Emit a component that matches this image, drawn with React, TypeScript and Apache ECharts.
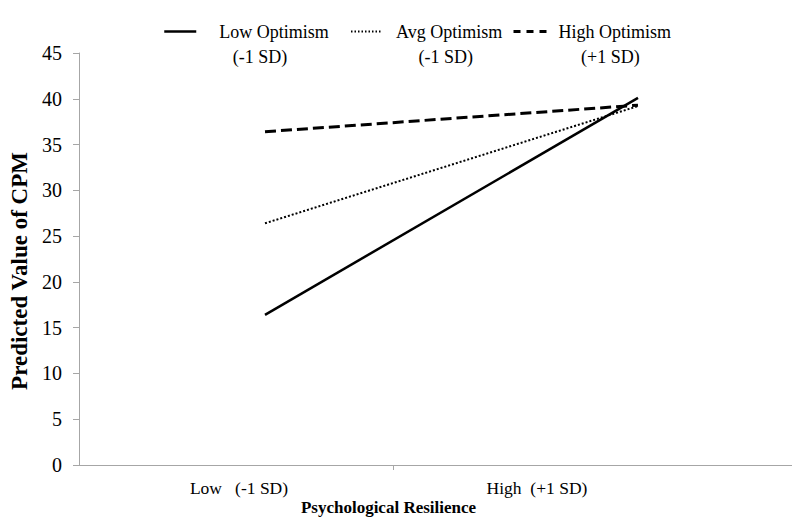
import React, { useEffect, useRef } from "react";
import * as echarts from "echarts";

const categories = ["Low", "High"];
const xTickLabels = ["Low   (-1 SD)", "High  (+1 SD)"];
const seriesNames = ["Low Optimism", "Avg Optimism", "High Optimism"];
const seriesSD = ["   (-1 SD)", "     (-1 SD)", "     (+1 SD)"];
const lowOptimism = [16.4, 40.1];
const avgOptimism = [26.4, 39.2];
const highOptimism = [36.4, 39.3];
const yTicks = { min: 0, max: 45, interval: 5 };

const FONT = "'Liberation Serif', 'Times New Roman', serif";

export default function App() {
  const ref = useRef<HTMLDivElement>(null);
  useEffect(() => {
    if (!ref.current) return;
    const chart = echarts.init(ref.current, null, { renderer: "svg" });
    const axisGray = "#a6a6a6";
    const legendText = {
      fontFamily: FONT,
      fontSize: 18,
      color: "#000",
      lineHeight: 25,
    };
    const legendBase = {
      top: -6,
      padding: 0,
      orient: "horizontal",
      itemHeight: 14,
      itemStyle: { opacity: 0 },
      formatter: (name: string) => "\n" + name + "\n" + seriesSD[seriesNames.indexOf(name)],
    };
    const option: any = {
      animation: false,
      backgroundColor: "#fff",
      grid: [
        { left: 79, right: 0, top: 53, bottom: 66 },
        { left: 265, right: 162, top: 53, bottom: 66 },
        { left: 90, right: 114, top: 53, bottom: 66 },
      ],
      legend: [
        { ...legendBase, left: 163, itemWidth: 32, data: [seriesNames[0]], lineStyle: { width: 2.5, type: "solid" }, textStyle: { ...legendText, padding: [0, 0, 0, 18] } },
        { ...legendBase, left: 350, itemWidth: 30, data: [seriesNames[1]], lineStyle: { width: 2, type: [1.5, 2] }, textStyle: { ...legendText, padding: [0, 0, 0, 10] } },
        { ...legendBase, left: 512, itemWidth: 35, data: [seriesNames[2]], lineStyle: { width: 3, type: [7, 6] }, textStyle: { ...legendText, padding: [0, 0, 0, 5] } },
      ],
      xAxis: [
        {
          type: "value",
          gridIndex: 0,
          min: 0,
          max: 721,
          splitLine: { show: false },
          axisLine: { show: true, lineStyle: { color: axisGray, width: 1 } },
          axisTick: { show: true, customValues: [314], length: 5, lineStyle: { color: axisGray } },
          axisLabel: { show: false },
          name: "Psychological Resilience",
          nameLocation: "middle",
          nameGap: 34,
          nameTextStyle: {
            fontFamily: FONT,
            fontSize: 17,
            fontWeight: "bold",
            color: "#000",
            padding: [0, 102, 0, 0],
          },
        },
        {
          type: "category",
          gridIndex: 1,
          data: categories,
          boundaryGap: false,
          show: false,
        },
        {
          type: "category",
          gridIndex: 2,
          data: xTickLabels,
          boundaryGap: true,
          axisLine: { show: false },
          axisTick: { show: false },
          axisLabel: { fontFamily: FONT, fontSize: 17.5, color: "#000", margin: 14, interval: 0 },
        },
      ],
      yAxis: [
        {
          type: "value",
          gridIndex: 0,
          min: yTicks.min,
          max: yTicks.max,
          interval: yTicks.interval,
          splitLine: { show: false },
          axisLine: { show: true, lineStyle: { color: axisGray, width: 1 } },
          axisTick: { show: true, length: 6, lineStyle: { color: axisGray } },
          axisLabel: { fontFamily: FONT, fontSize: 20, color: "#000", margin: 17 },
          name: "Predicted Value of CPM",
          nameLocation: "middle",
          nameGap: 31,
          nameTextStyle: { fontFamily: FONT, fontSize: 23, fontWeight: "bold", color: "#000", padding: [0, 24, 0, 0] },
        },
        {
          type: "value",
          gridIndex: 1,
          min: yTicks.min,
          max: yTicks.max,
          show: false,
          splitLine: { show: false },
        },
        {
          type: "value",
          gridIndex: 2,
          show: false,
          splitLine: { show: false },
        },
      ],
      series: [
        {
          name: seriesNames[0],
          type: "line",
          xAxisIndex: 1,
          yAxisIndex: 1,
          data: lowOptimism,
          symbol: "none",
          lineStyle: { color: "#000", width: 2.5, type: "solid" },
          itemStyle: { color: "#000" },
        },
        {
          name: seriesNames[1],
          type: "line",
          xAxisIndex: 1,
          yAxisIndex: 1,
          data: avgOptimism,
          symbol: "none",
          lineStyle: { color: "#000", width: 2, type: [2, 2] },
          itemStyle: { color: "#000" },
        },
        {
          name: seriesNames[2],
          type: "line",
          xAxisIndex: 1,
          yAxisIndex: 1,
          data: highOptimism,
          symbol: "none",
          lineStyle: { color: "#000", width: 3, type: [11, 5] },
          itemStyle: { color: "#000" },
        },
      ],
    };
    chart.setOption(option);
    return () => chart.dispose();
  }, []);
  return <div ref={ref} style={{ width: 800, height: 531, margin: -8 }} />;
}
